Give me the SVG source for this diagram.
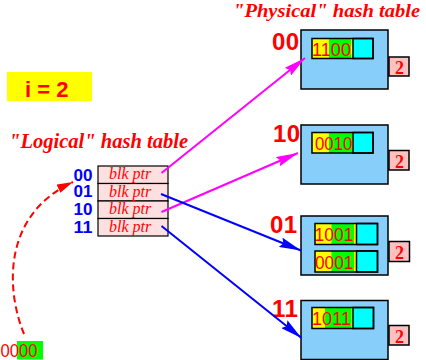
<svg xmlns="http://www.w3.org/2000/svg" width="426" height="360" viewBox="0 0 426 360">
<defs>
<style>
.bucket{fill:#87cefa;stroke:#000;stroke-width:1.5}
.yel{fill:#ffff00}
.grn{fill:#00ff00}
.cyn{fill:#00ffff;stroke:#000;stroke-width:1.5}
.rec{fill:none;stroke:#000;stroke-width:1.5}
.depth{fill:#ffc0c0;stroke:#000;stroke-width:1.5}
.dtxt{font-family:'Liberation Serif',serif;font-weight:bold;font-size:18px;fill:#ff0000;text-anchor:middle}
.bits{font-family:'Liberation Sans',sans-serif;font-size:17.5px;fill:#ff0000}
.big{font-family:'Liberation Sans',sans-serif;font-weight:bold;font-size:24px;fill:#ff0000;letter-spacing:0.5px}
.title{font-family:'Liberation Serif',serif;font-weight:bold;font-style:italic;font-size:20px;fill:#ff0000}
.row{fill:#ffe0e0;stroke:#000;stroke-width:1.2}
.blk{font-family:'Liberation Serif',serif;font-style:italic;font-size:16px;fill:#ff0000}
.idx{font-family:'Liberation Sans',sans-serif;font-weight:bold;font-size:16px;fill:#0000ff}
.mag{stroke:#ff00ff;stroke-width:2;fill:none}
.blu{stroke:#0000ff;stroke-width:2;fill:none}
</style>
<marker id="amag" markerUnits="userSpaceOnUse" markerWidth="22" markerHeight="10" refX="22" refY="5" orient="auto"><path d="M0,0 L22,5 L0,10 L3,5 Z" fill="#ff00ff"/></marker>
<marker id="ablu" markerUnits="userSpaceOnUse" markerWidth="22" markerHeight="10" refX="22" refY="5" orient="auto"><path d="M0,0 L22,5 L0,10 L3,5 Z" fill="#0000ff"/></marker>
<marker id="ared" markerUnits="userSpaceOnUse" markerWidth="16" markerHeight="9" refX="16" refY="4.5" orient="auto"><path d="M0,0 L16,4.5 L0,9 Z" fill="#ff0000"/></marker>
</defs>
<rect width="426" height="360" fill="#fff"/>

<text class="title" x="233" y="17" font-size="19" style="font-size:19px" textLength="187" lengthAdjust="spacingAndGlyphs">"Physical" hash table</text>
<text class="title" x="9" y="148" textLength="179" lengthAdjust="spacingAndGlyphs">"Logical" hash table</text>

<g id="global-depth">
<rect x="7" y="72" width="85" height="29" fill="#ffff00"/>
<text x="25" y="97" font-family="Liberation Sans,sans-serif" font-weight="bold" font-size="22" fill="#ff0000">i = 2</text>
</g>

<g id="logical-table">
<rect class="row" x="98" y="166" width="70" height="17.5"/>
<rect class="row" x="98" y="183.5" width="70" height="17.5"/>
<rect class="row" x="98" y="201" width="70" height="17.5"/>
<rect class="row" x="98" y="218.5" width="70" height="17.5"/>
<text class="blk" x="109" y="179">blk ptr</text>
<text class="blk" x="109" y="196.5">blk ptr</text>
<text class="blk" x="109" y="214">blk ptr</text>
<text class="blk" x="109" y="231.5">blk ptr</text>
<text class="idx" x="73.5" y="180.5" textLength="19" lengthAdjust="spacingAndGlyphs">00</text>
<text class="idx" x="73.5" y="197" textLength="19" lengthAdjust="spacingAndGlyphs">01</text>
<text class="idx" x="73.5" y="215" textLength="19" lengthAdjust="spacingAndGlyphs">10</text>
<text class="idx" x="73.5" y="232.5" textLength="19" lengthAdjust="spacingAndGlyphs">11</text>
</g>

<g id="key">
<rect x="17" y="341" width="26" height="18.5" fill="#00ff00"/>
<text class="bits" x="0.5" y="356.5" textLength="37" lengthAdjust="spacingAndGlyphs">0000</text>
</g>

<g id="bucket-00">
<text class="big" x="272" y="50">00</text>
<rect class="bucket" x="301" y="30" width="87" height="59"/>
<rect class="yel" x="312" y="38.5" width="41" height="20"/>
<rect class="grn" x="329" y="38.5" width="22" height="20"/>
<rect class="cyn" x="353" y="38.5" width="20" height="20"/>
<rect class="rec" x="312" y="38.5" width="61" height="20"/>
<text class="bits" x="312" y="56" textLength="39" lengthAdjust="spacingAndGlyphs">1100</text>
<rect class="depth" x="389" y="57" width="20" height="19"/>
<text class="dtxt" x="399.5" y="74">2</text>
</g>

<g id="bucket-10">
<text class="big" x="273" y="142">10</text>
<rect class="bucket" x="301" y="125" width="87" height="59"/>
<rect class="yel" x="312" y="132.5" width="41" height="20.5"/>
<rect class="grn" x="329" y="132.5" width="23" height="20.5"/>
<rect class="cyn" x="353" y="132.5" width="20" height="20.5"/>
<rect class="rec" x="312" y="132.5" width="61" height="20.5"/>
<text class="bits" x="315" y="149.5" textLength="37.5" lengthAdjust="spacingAndGlyphs">0010</text>
<rect class="depth" x="389" y="150.5" width="20" height="19.5"/>
<text class="dtxt" x="399.5" y="167.5">2</text>
</g>

<g id="bucket-01">
<text class="big" x="270" y="233">01</text>
<rect class="bucket" x="301" y="216" width="87" height="59"/>
<rect class="yel" x="315" y="223.5" width="41.5" height="21"/>
<rect class="grn" x="331.5" y="223.5" width="22.5" height="21"/>
<rect class="cyn" x="356.5" y="223.5" width="21" height="21"/>
<rect class="rec" x="315" y="223.5" width="62.5" height="21"/>
<text class="bits" x="314.5" y="241" textLength="39" lengthAdjust="spacingAndGlyphs">1001</text>
<rect class="yel" x="315" y="251" width="41.5" height="21"/>
<rect class="grn" x="331.5" y="251" width="22.5" height="21"/>
<rect class="cyn" x="356.5" y="251" width="21" height="21"/>
<rect class="rec" x="315" y="251" width="62.5" height="21"/>
<text class="bits" x="315" y="268.5" textLength="38.5" lengthAdjust="spacingAndGlyphs">0001</text>
<rect class="depth" x="389" y="241.5" width="20.5" height="20"/>
<text class="dtxt" x="399.5" y="259">2</text>
</g>

<g id="bucket-11">
<text class="big" x="272" y="316.5">11</text>
<rect class="bucket" x="301" y="300.5" width="87" height="59"/>
<rect class="yel" x="312" y="307.5" width="41" height="21"/>
<rect class="grn" x="325" y="307.5" width="26.5" height="21"/>
<rect class="cyn" x="353" y="307.5" width="20.5" height="21"/>
<rect class="rec" x="312" y="307.5" width="61.5" height="21"/>
<text class="bits" x="312" y="324.5" textLength="39" lengthAdjust="spacingAndGlyphs">1011</text>
<rect class="depth" x="389" y="325.5" width="20" height="19.5"/>
<text class="dtxt" x="399.5" y="342.5">2</text>
</g>

<g id="connectors">
<line class="mag" x1="161.5" y1="173" x2="305" y2="58" marker-end="url(#amag)"/>
<line class="mag" x1="161.5" y1="212" x2="298" y2="153" marker-end="url(#amag)"/>
<line class="blu" x1="161" y1="194" x2="301" y2="250.5" marker-end="url(#ablu)"/>
<line class="blu" x1="161.5" y1="226" x2="301.5" y2="338" marker-end="url(#ablu)"/>
<path d="M24,334 C6,290 2,215 73,182" fill="none" stroke="#ff0000" stroke-width="2" stroke-dasharray="7,4" marker-end="url(#ared)"/>
</g>
</svg>
